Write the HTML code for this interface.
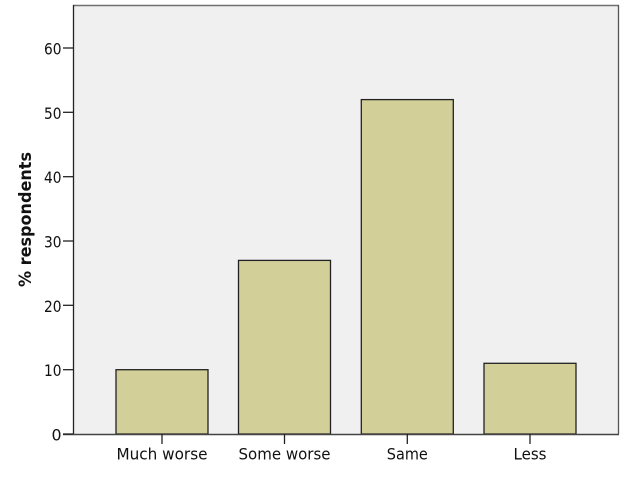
<!DOCTYPE html>
<html><head><meta charset="utf-8"><style>
html,body{margin:0;padding:0;background:#fff;}
svg{display:block;}
text{font-family:"DejaVu Sans","Liberation Sans",sans-serif;fill:#111;}
</style></head><body>
<svg width="626" height="501" viewBox="0 0 626 501" xmlns="http://www.w3.org/2000/svg">
<rect x="0" y="0" width="626" height="501" fill="#fff"/>
<!-- plot area -->
<rect x="73" y="5" width="545.5" height="429" fill="#f0f0f0"/>
<line x1="73" y1="5.5" x2="619" y2="5.5" stroke="#707070" stroke-width="1.5"/>
<line x1="618.5" y1="5" x2="618.5" y2="434" stroke="#555" stroke-width="1.3"/>
<!-- bars -->
<g fill="#d3cf99" stroke="#222" stroke-width="1.3">
<rect x="116" y="369.7" width="92" height="64.3"/>
<rect x="238.5" y="260.4" width="92" height="173.6"/>
<rect x="361.3" y="99.6" width="92" height="334.4"/>
<rect x="484" y="363.3" width="92" height="70.7"/>
</g>
<!-- axes -->
<line x1="73.5" y1="5" x2="73.5" y2="434" stroke="#222" stroke-width="1.3"/>
<line x1="63" y1="434.5" x2="619" y2="434.5" stroke="#444" stroke-width="1.5"/>
<!-- y ticks -->
<g stroke="#222" stroke-width="1.3">
<line x1="63" y1="434" x2="73" y2="434"/>
<line x1="63" y1="369.7" x2="73" y2="369.7"/>
<line x1="63" y1="305.3" x2="73" y2="305.3"/>
<line x1="63" y1="241" x2="73" y2="241"/>
<line x1="63" y1="176.7" x2="73" y2="176.7"/>
<line x1="63" y1="112.3" x2="73" y2="112.3"/>
<line x1="63" y1="48" x2="73" y2="48"/>
</g>
<g font-size="15.8" text-anchor="end">
<text x="61.5" y="440.5">0</text>
<text x="61.5" y="376.2" textLength="17.5" lengthAdjust="spacingAndGlyphs">10</text>
<text x="61.5" y="311.8" textLength="17.5" lengthAdjust="spacingAndGlyphs">20</text>
<text x="61.5" y="247.5" textLength="17.5" lengthAdjust="spacingAndGlyphs">30</text>
<text x="61.5" y="183.2" textLength="17.5" lengthAdjust="spacingAndGlyphs">40</text>
<text x="61.5" y="118.8" textLength="17.5" lengthAdjust="spacingAndGlyphs">50</text>
<text x="61.5" y="54.5" textLength="17.5" lengthAdjust="spacingAndGlyphs">60</text>
</g>
<!-- x ticks -->
<g stroke="#222" stroke-width="1.3">
<line x1="162" y1="434" x2="162" y2="444"/>
<line x1="284.5" y1="434" x2="284.5" y2="444"/>
<line x1="407.3" y1="434" x2="407.3" y2="444"/>
<line x1="530" y1="434" x2="530" y2="444"/>
</g>
<g font-size="15.8" text-anchor="middle">
<text x="162" y="459.5" textLength="91" lengthAdjust="spacingAndGlyphs">Much worse</text>
<text x="284.5" y="459.5" textLength="92" lengthAdjust="spacingAndGlyphs">Some worse</text>
<text x="407.3" y="459.5" textLength="41" lengthAdjust="spacingAndGlyphs">Same</text>
<text x="530" y="459.5" textLength="33" lengthAdjust="spacingAndGlyphs">Less</text>
</g>
<text transform="translate(31,219.5) rotate(-90)" font-size="16.5" font-weight="bold" text-anchor="middle" textLength="135" lengthAdjust="spacingAndGlyphs">% respondents</text>
</svg>
</body></html>
